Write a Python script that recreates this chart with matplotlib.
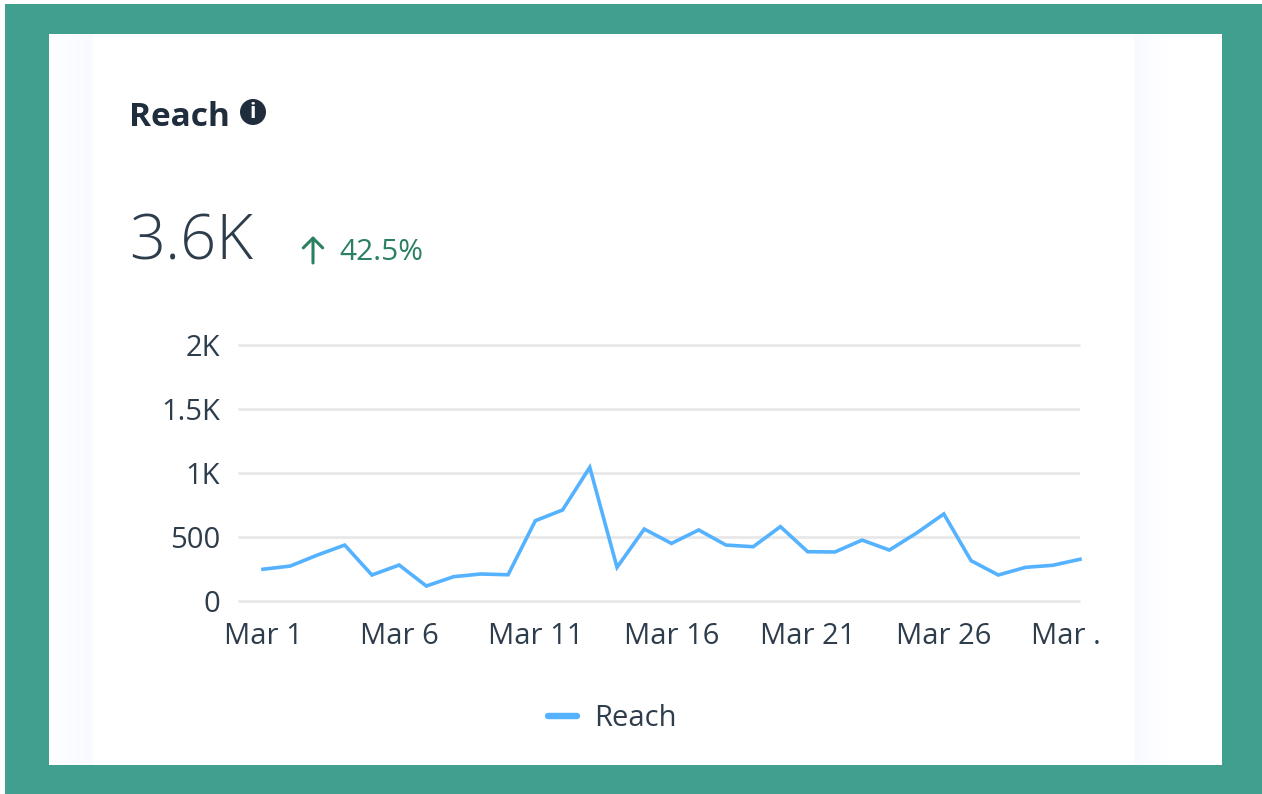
"""
Reach card: daily reach for March, inside a teal frame.
Output: out.png
"""
import matplotlib.pyplot as plt
import numpy as np

W, H = 1262, 794

days = list(range(1, 32))
reach = [248, 273, 359, 437, 203, 281, 117, 190, 211, 205, 627, 711, 1044, 263, 562, 450,
         555, 437, 424, 581, 385, 383, 476, 398, 531, 680, 315, 203, 263, 279, 326]
y_ticks = [0, 500, 1000, 1500, 2000]
y_labels = ["0", "500", "1K", "1.5K", "2K"]
x_tick_days = [1, 6, 11, 16, 21, 26]
x_labels = ["Mar 1", "Mar 6", "Mar 11", "Mar 16", "Mar 21", "Mar 26"]

TEAL = "#419f8f"
TEXT = "#2e3d4c"
GREEN = "#2a8060"
BLUE = "#55b2ff"
FONT = "Open Sans"

plt.rcParams["font.family"] = [FONT, "DejaVu Sans"]

fig = plt.figure(figsize=(W / 100, H / 100), dpi=100, facecolor="white")

# background layer in pixel coords
bg = fig.add_axes([0, 0, 1, 1], zorder=0)
bg.set_xlim(0, W)
bg.set_ylim(H, 0)
bg.axis("off")
bg.add_patch(plt.Rectangle((5, 4), W - 5, H - 4, color=TEAL, lw=0))
bg.add_patch(plt.Rectangle((49, 34), 1173, 731, color="white", lw=0))

# faint shadow bands either side of the card
shade = np.array([[247, 250, 255]], dtype=float) / 255
white = np.ones((1, 3))
ramp = np.linspace(0, 1, 64)[:, None]
grad = (white * (1 - ramp) + shade * ramp)[None, :, :]
bg.imshow(grad, extent=(49, 93, 765, 34), aspect="auto", zorder=1)
bg.imshow(grad[:, ::-1, :], extent=(1134, 1166, 765, 34), aspect="auto", zorder=1)
bg.set_xlim(0, W)
bg.set_ylim(H, 0)

# header
bg.text(129, 117, "Reach", fontsize=24, fontweight="bold", color="#1f2d3d", va="center", ha="left", zorder=3)
bg.add_patch(plt.Circle((253, 112), 13, color="#1f2d3d", lw=0, zorder=3))
bg.text(253, 112, "i", fontsize=15, fontweight="bold", color="white", va="center", ha="center", zorder=4)
bg.text(129, 243, "3.6K", fontsize=45.5, fontweight="light", color=TEXT, va="center", ha="left", zorder=3)
bg.annotate("", xy=(313, 236), xytext=(313, 263), zorder=3,
            arrowprops=dict(arrowstyle="->,head_length=0.7,head_width=0.7", color=GREEN, lw=2.2, shrinkA=0, shrinkB=0))
bg.text(339, 253, "42.5%", fontsize=21.5, color=GREEN, va="center", ha="left", zorder=3)

# chart
ax_left, ax_right, ax_top, ax_bottom = 238, 1080, 345, 601
ax = fig.add_axes([ax_left / W, 1 - ax_bottom / H, (ax_right - ax_left) / W, (ax_bottom - ax_top) / H], zorder=2)
ax.patch.set_alpha(0)
line, = ax.plot(days, reach, color=BLUE, lw=2.6, label="Reach", solid_joinstyle="miter", zorder=3, clip_on=False)
ax.set_xlim(0.083, 31)
ax.set_ylim(0, 2000)
ax.set_yticks(y_ticks)
ax.set_yticklabels(y_labels, fontsize=21, color=TEXT)
ax.set_xticks(x_tick_days)
ax.set_xticklabels(x_labels, fontsize=21, color=TEXT)
ax.tick_params(axis="both", length=0)
ax.tick_params(axis="y", pad=13)
ax.tick_params(axis="x", pad=15)
for s in ax.spines.values():
    s.set_visible(False)
ax.yaxis.grid(True, color="#e8e8e8", lw=2, solid_capstyle="butt")
ax.set_axisbelow(True)
ax.get_ygridlines()[0].set_clip_on(False)
ax.get_ygridlines()[-1].set_clip_on(False)

# last label is cut off in the original
ax.annotate("Mar .", xy=(31, 0), xycoords="data", xytext=(-35, -15), textcoords="offset points",
            fontsize=21, color=TEXT, va="top", ha="left", annotation_clip=False)

leg = ax.legend(loc="center", bbox_to_anchor=(612.5 / W, 1 - 719 / H), bbox_transform=fig.transFigure,
                frameon=False, fontsize=21, handlelength=1.0, handletextpad=0.6, labelcolor=TEXT)
leg.get_lines()[0].set_linewidth(4.6)
leg.get_lines()[0].set_solid_capstyle("round")

fig.savefig("out.png", dpi=100)
print("Saved out.png")
